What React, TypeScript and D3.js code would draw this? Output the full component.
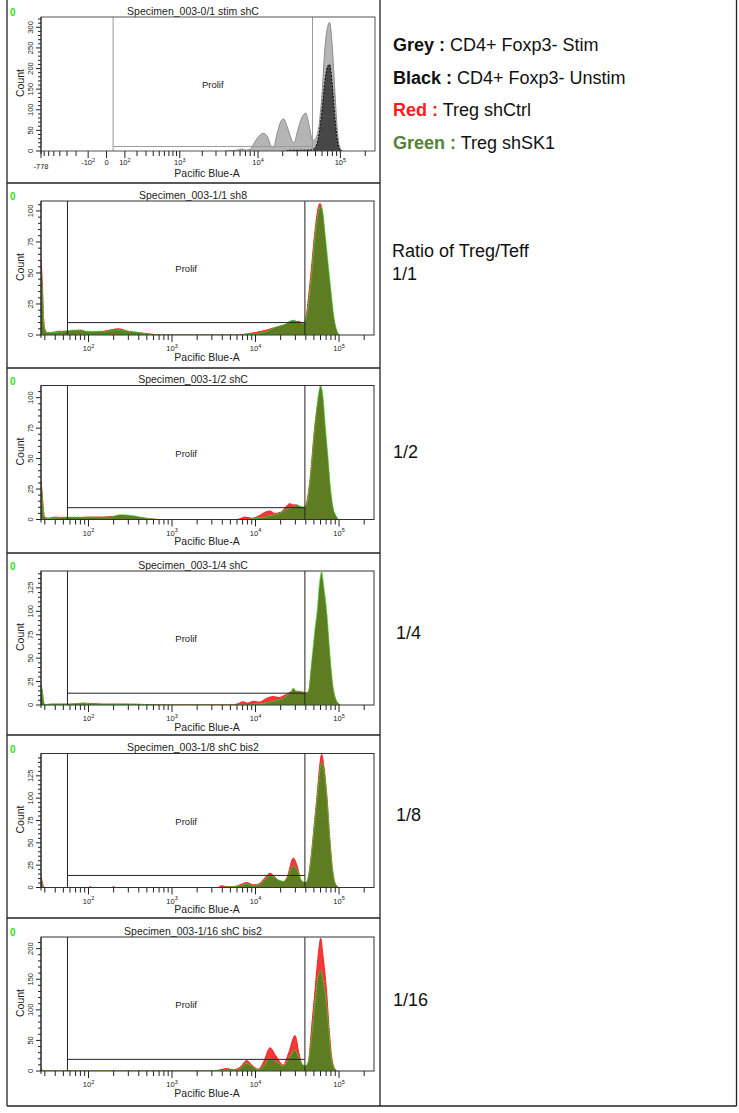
import React from 'react';
import * as d3 from 'd3';

type Pt = [number, number];

const FONT = '"Liberation Sans", Arial, sans-serif';

// panel titles and ratio labels
const titles = [
  'Specimen_003-0/1 stim shC',
  'Specimen_003-1/1 sh8',
  'Specimen_003-1/2 shC',
  'Specimen_003-1/4 shC',
  'Specimen_003-1/8 shC bis2',
  'Specimen_003-1/16 shC bis2',
];
const ratioLabels = ['1/1', '1/2', '1/4', '1/8', '1/16'];

// y axis of each panel
const yMaxes = [325, 108, 110, 143, 150, 219];
const yTickMaxes = [300, 100, 100, 125, 125, 200];
const yTickSteps = [50, 25, 25, 25, 25, 50];

// Prolif gate (low, high fluorescence) and its count level
const gateStim = [30, 46000];
const gateTreg = [56, 39000];
const gateLevels = [11, 10, 9.7, 12.6, 13.5, 19];

// panel 0/1: stimulated (grey) and unstimulated (black)
const stimGrey: Pt[] = [
  [4000, 0], [5500, 2], [6300, 5], [7000, 2], [8000, 4], [9000, 20], [10500, 38], [11500, 43],
  [13000, 35], [14500, 12], [15500, 10], [17000, 40], [19000, 72], [20500, 78], [23000, 55],
  [26000, 25], [27500, 20], [30000, 45], [34000, 80], [38000, 92], [42000, 60], [46000, 25],
  [50000, 30], [55000, 60], [60000, 140], [65000, 250], [70000, 300], [74000, 312], [80000, 250],
  [86000, 140], [92000, 50], [98000, 10], [105000, 0],
];
const unstimBlack: Pt[] = [
  [22000, 0], [25000, 2], [35000, 2], [45000, 3], [50000, 10], [55000, 40], [60000, 100],
  [65000, 170], [70000, 205], [74000, 210], [80000, 160], [86000, 80], [92000, 25], [98000, 5], [105000, 0],
];

// ratio 1/1
const ctrl1: Pt[] = [
  [27, 60], [28, 42], [29, 14], [30, 5], [32, 2], [36, 2], [45, 3], [60, 3], [80, 4], [100, 2], [150, 3],
  [230, 5], [300, 3], [400, 2], [600, 0.5], [1000, 0], [6000, 0], [8000, 1], [10000, 2], [13600, 4],
  [17000, 6], [21500, 8], [28000, 10], [33000, 11], [37400, 9], [39200, 11], [44900, 42], [51500, 84],
  [56000, 102], [59200, 106], [63000, 100], [67900, 77], [72000, 58], [78000, 37], [85500, 15],
  [93700, 3], [100000, 0],
];
const sk1_1: Pt[] = [
  [27, 50], [28, 38], [29, 12], [30, 4], [32, 2], [40, 2], [50, 3], [70, 4], [100, 3], [150, 3], [230, 4],
  [300, 3], [400, 2], [600, 0], [7000, 0], [8000, 0.5], [10000, 1], [13600, 3], [17000, 6], [21500, 8],
  [28400, 12], [33000, 10], [37400, 9], [39500, 11], [45500, 40], [52000, 82], [57000, 100], [60000, 104],
  [64000, 98], [69000, 78], [74000, 58], [80000, 36], [87000, 14], [95000, 3], [102000, 0],
];

// ratio 1/2
const ctrl2: Pt[] = [
  [27, 31], [28, 20], [29, 6], [30, 2], [33, 1], [40, 2], [60, 1], [100, 2], [150, 2], [240, 3], [350, 2],
  [500, 1], [700, 0], [6000, 0], [7500, 2], [9000, 1], [11000, 3], [13000, 6], [14900, 7], [17000, 5],
  [20000, 6], [25900, 13], [28000, 12], [31100, 12], [35000, 10], [38500, 10], [41000, 14], [44900, 33],
  [51500, 78], [56500, 97], [59200, 100], [63000, 95], [67900, 72], [73000, 48], [78000, 25],
  [84000, 9], [89500, 4], [97000, 0],
];
const sk1_2: Pt[] = [
  [27, 30], [28, 18], [29, 5], [30, 1], [35, 1], [50, 2], [80, 2], [120, 2], [180, 2], [240, 4], [350, 3],
  [500, 1], [700, 0], [8000, 0], [10000, 1], [13000, 2], [15000, 3], [19000, 5], [23000, 8], [28000, 10],
  [31000, 12], [34000, 11], [38500, 10], [41500, 14], [45500, 35], [52000, 80], [57000, 104], [60000, 110],
  [64000, 102], [69000, 74], [74000, 50], [79000, 26], [86000, 8], [92000, 3], [99000, 0],
];

// ratio 1/4
const ctrl4: Pt[] = [
  [27, 21], [28, 14], [29, 3], [30, 0], [35, 1], [60, 1], [90, 2], [150, 1], [250, 1], [500, 0.5], [800, 0],
  [5000, 0], [6000, 1], [7150, 3.5], [8000, 2], [9400, 4], [11000, 3], [13500, 7], [16300, 9], [19000, 8],
  [23000, 11], [28400, 15], [35500, 14], [40000, 13], [42900, 14], [47200, 42], [51000, 65], [54900, 85],
  [58000, 105], [61900, 115], [66000, 105], [72000, 82], [77000, 50], [83700, 20], [90000, 7],
  [97200, 2], [103000, 0],
];
const sk1_4: Pt[] = [
  [27, 22], [28, 15], [29, 4], [30, 0.5], [40, 1], [60, 1], [85, 2], [120, 1], [200, 1], [300, 1], [500, 0.5],
  [800, 0], [8000, 0], [10000, 1], [13000, 2], [16300, 4], [19000, 5], [23000, 9], [26500, 14], [28400, 18],
  [31000, 14], [35500, 14], [40000, 13], [42900, 14], [47200, 48], [51000, 78], [54900, 102], [58000, 128],
  [61900, 142], [66000, 125], [72000, 95], [77500, 56], [83700, 23], [90000, 8], [97200, 2], [103000, 0],
];

// ratio 1/8
const ctrl8: Pt[] = [
  [27, 12], [28, 6], [29, 1], [30, 0], [100, 0], [105, 1], [110, 0], [190, 0], [200, 1], [210, 0],
  [3500, 0], [3940, 2], [4500, 1], [5500, 1], [6500, 3], [7850, 5.5], [9500, 3], [11000, 4], [13000, 11],
  [14900, 16], [17000, 12], [19500, 6], [21500, 5], [24000, 12], [28400, 33], [31500, 24], [35500, 6],
  [38500, 3], [41000, 5], [44000, 18], [47200, 42], [51000, 75], [54900, 106], [58000, 132], [61900, 149],
  [66000, 135], [72000, 99], [77500, 55], [83700, 20], [89500, 5], [98700, 0],
];
const sk1_8: Pt[] = [
  [27, 8], [28, 4], [29, 0.5], [30, 0], [3500, 0], [5000, 1], [6500, 2], [7850, 4], [9500, 2], [11000, 3],
  [13000, 9], [14900, 13], [17000, 11], [19500, 8], [21500, 7], [24000, 11], [28400, 24], [31500, 20],
  [35500, 8], [38500, 6], [41000, 7], [44000, 18], [47200, 40], [51000, 72], [54900, 102], [58000, 125],
  [61900, 140], [66000, 130], [72000, 97], [77500, 54], [83700, 19], [89500, 5], [98700, 0],
];

// ratio 1/16
const ctrl16: Pt[] = [
  [27, 3], [28, 1], [29, 0], [2800, 0], [3500, 1], [4520, 4], [5420, 2], [6500, 6], [7850, 17], [9000, 10],
  [10800, 3], [12500, 15], [14900, 38], [17500, 25], [21500, 10], [25000, 30], [29700, 58], [33000, 30],
  [37400, 5], [40000, 6], [42900, 15], [47200, 75], [51000, 125], [54900, 174], [58000, 205], [60200, 217],
  [64000, 190], [70900, 130], [76000, 70], [81300, 25], [89500, 3], [96000, 0],
];
const sk1_16: Pt[] = [
  [27, 5], [28, 2], [29, 0], [3000, 0], [4000, 1], [4520, 2], [5420, 1], [6500, 4], [7850, 12.6], [9000, 8],
  [10800, 2], [12500, 8], [14900, 20], [17500, 16], [21500, 8], [25000, 20], [29700, 34], [33000, 22],
  [37400, 10], [40000, 9], [42900, 15], [47200, 60], [51000, 105], [54900, 147], [58000, 160], [60200, 164],
  [64000, 150], [70900, 108], [76000, 60], [81300, 20], [89500, 3], [96000, 0],
];

const ctrlSeries = [ctrl1, ctrl2, ctrl4, ctrl8, ctrl16];
const sk1Series = [sk1_1, sk1_2, sk1_4, sk1_8, sk1_16];

const panelTops = [-1, 183, 367.5, 553, 735.5, 919];
const borderYs = [0, 183, 368, 553, 735, 918, 1106];

type Series = { data: Pt[]; fill: string; stroke: string; dash?: string };

function tickLabel(v: number, x: number, yb: number, key: string) {
  if (v === 0 || v === -778) {
    return (
      <text key={key} x={x} y={v === -778 ? yb + 3.5 : yb} textAnchor="middle" fontSize={7.5}>
        {v === 0 ? '0' : '-778'}
      </text>
    );
  }
  const n = Math.round(Math.log10(Math.abs(v)));
  return (
    <text key={key} x={x} y={yb} textAnchor="middle" fontSize={7.5}>
      {v < 0 ? '-10' : '10'}
      <tspan fontSize={5.5} dy={-3.5}>{n}</tspan>
    </text>
  );
}

function Panel({ i, series }: { i: number; series: Series[] }) {
  const top = panelTops[i];
  const stim = i === 0;
  const plotTop = top + 18;
  const base = top + 152;
  const left = 41;
  const right = stim ? 375 : 374;
  const x: any = stim
    ? d3.scaleSymlog().constant(150).domain([-778, 262144]).range([left, right])
    : d3.scaleLog().domain([27, 262144]).range([left, right]);
  const y = d3.scaleLinear().domain([0, yMaxes[i]]).range([base, plotTop]);
  const area = d3
    .area<Pt>()
    .x((d) => x(d[0]))
    .y0(base)
    .y1((d) => y(d[1]))
    .curve(d3.curveMonotoneX);

  const logTicks: number[] = [];
  for (let n = stim ? 2 : 1; n <= 5; n++) {
    for (let k = 1; k <= 9; k++) {
      const v = k * Math.pow(10, n);
      if (v >= 27 && v <= 262144) logTicks.push(v);
    }
  }
  const xTicks = stim ? [-778, ...d3.range(-700, 0, 100), 0, ...logTicks] : logTicks;
  const xMajors = stim ? [-778, -100, 0, 100, 1000, 10000, 100000] : [100, 1000, 10000, 100000];

  const yStep = yTickSteps[i];
  const yMajors = d3.range(0, yTickMaxes[i] + 1, yStep);
  const yMinors = d3.range(0, yMaxes[i], yStep / 5).filter((v) => v % yStep !== 0);

  const gate = stim ? gateStim : gateTreg;
  const gx0 = x(gate[0]);
  const gx1 = x(gate[1]);
  const gy = y(gateLevels[i]);
  const gateColor = stim ? '#9a9a9a' : '#222';
  const frameColor = stim ? '#555' : '#333';
  const clipId = `clip-${i}`;

  return (
    <g fontFamily={FONT} fill="#222">
      <defs>
        <clipPath id={clipId}>
          <rect x={left} y={plotTop} width={right - left} height={base - plotTop} />
        </clipPath>
      </defs>
      <text x={10} y={top + 17} fontSize={10} fontWeight="bold" fill="#33dd22">0</text>
      <text x={193} y={top + 15.5} textAnchor="middle" fontSize={10.5}>{titles[i]}</text>
      <text
        transform={`translate(24, ${top + 84}) rotate(-90)`}
        textAnchor="middle"
        fontSize={10.5}
      >
        Count
      </text>
      <text x={207} y={top + 177.5} textAnchor="middle" fontSize={10.5}>Pacific Blue-A</text>

      <g clipPath={`url(#${clipId})`}>
        {series.map((s, j) => (
          <path
            key={j}
            d={area(s.data) || ''}
            fill={s.fill}
            stroke={s.stroke}
            strokeWidth={1}
            strokeDasharray={s.dash}
          />
        ))}
      </g>

      {/* gate */}
      <g stroke={gateColor} strokeWidth={1} fill="none">
        <line x1={gx0} x2={gx0} y1={plotTop} y2={base} />
        <line x1={gx1} x2={gx1} y1={plotTop} y2={base} />
        <line x1={gx0} x2={gx1} y1={gy} y2={gy} />
      </g>
      <text x={(gx0 + gx1) / 2} y={top + 89} textAnchor="middle" fontSize={9.5}>Prolif</text>

      {/* frame */}
      <rect x={left} y={plotTop} width={right - left} height={base - plotTop} fill="none" stroke={frameColor} strokeWidth={1} />

      {/* y axis */}
      <g stroke="#222" strokeWidth={1}>
        {yMajors.map((v) => (
          <line key={`ym${v}`} x1={left - 5} x2={left} y1={y(v)} y2={y(v)} />
        ))}
        {yMinors.map((v) => (
          <line key={`yn${v}`} x1={left - 3} x2={left} y1={y(v)} y2={y(v)} />
        ))}
        <line x1={left} x2={left} y1={plotTop} y2={base + 3} />
      </g>
      {yMajors.map((v) => (
        <text
          key={`yl${v}`}
          transform={`translate(33, ${y(v)}) rotate(-90)`}
          textAnchor="middle"
          fontSize={7.5}
        >
          {v}
        </text>
      ))}

      {/* x axis */}
      <g stroke="#222" strokeWidth={1}>
        {xTicks.map((v) => (
          <line
            key={`xt${v}`}
            x1={x(v)}
            x2={x(v)}
            y1={base}
            y2={base + (xMajors.includes(v) ? 7 : 5)}
          />
        ))}
      </g>
      {xMajors.map((v) => tickLabel(v, x(v), top + (stim ? 166 : 168), `xl${v}`))}
    </g>
  );
}

export default function App() {
  const tregFill = '#5e7d22';
  const panelSeries: Series[][] = [
    [
      { data: stimGrey, fill: '#b5b5b5', stroke: '#8c8c8c' },
      { data: unstimBlack, fill: '#474747', stroke: '#000', dash: '2,1.5' },
    ],
    ...ctrlSeries.map((c, k) => [
      { data: c, fill: '#f03a3a', stroke: '#ff1e1e' },
      { data: sk1Series[k], fill: tregFill, stroke: '#3be03b', dash: '1.5,1' },
    ]),
  ];

  const legend = [
    { key: 'Grey :', color: '#111', text: ' CD4+ Foxp3- Stim' },
    { key: 'Black :', color: '#111', text: ' CD4+ Foxp3- Unstim' },
    { key: 'Red :', color: '#ff1a1a', text: ' Treg shCtrl' },
    { key: 'Green :', color: '#548235', text: ' Treg shSK1' },
  ];
  const ratioPos = [
    { x: 392, y: 280 },
    { x: 393, y: 458 },
    { x: 396, y: 639 },
    { x: 396, y: 821 },
    { x: 393, y: 1006 },
  ];

  return (
    <div style={{ position: 'absolute', left: 0, top: 0, background: '#fff' }}>
      <svg width={739} height={1113} style={{ display: 'block', background: '#fff' }}>
        {panelSeries.map((s, i) => (
          <Panel key={i} i={i} series={s} />
        ))}

        {/* panel borders */}
        <g stroke="#222" strokeWidth={1.3}>
          <line x1={7} x2={7} y1={0} y2={1106} />
          <line x1={380} x2={380} y1={0} y2={1106} />
          <line x1={736.5} x2={736.5} y1={0} y2={1106} />
          {borderYs.slice(1).map((b) => (
            <line key={b} x1={7} x2={380} y1={b} y2={b} />
          ))}
          <line x1={380} x2={736.5} y1={1106} y2={1106} />
        </g>

        {/* legend text */}
        <g fontFamily={FONT} fontSize={18}>
          {legend.map((l, k) => (
            <text key={l.key} x={393} y={51 + k * 32.7} fill="#111">
              <tspan fontWeight="bold" fill={l.color}>{l.key}</tspan>
              <tspan>{l.text}</tspan>
            </text>
          ))}
          <text x={392} y={257} fill="#111">Ratio of Treg/Teff</text>
          {ratioLabels.map((r, k) => (
            <text key={r} x={ratioPos[k].x} y={ratioPos[k].y} fill="#111">{r}</text>
          ))}
        </g>
      </svg>
    </div>
  );
}
